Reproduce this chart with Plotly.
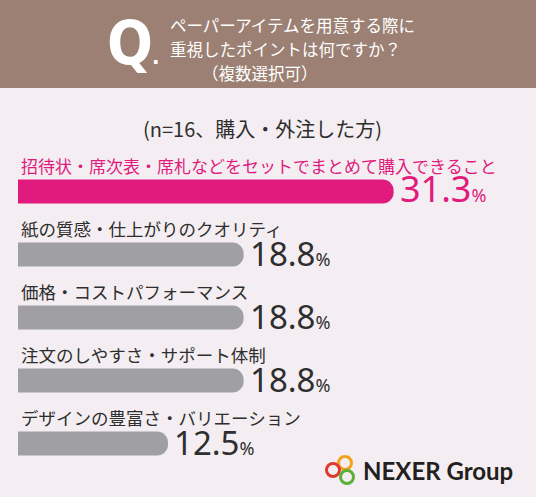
import plotly.graph_objects as go

W, H = 536, 497

# data
items = [
    "招待状・席次表・席札などをセットでまとめて購入できること",
    "紙の質感・仕上がりのクオリティ",
    "価格・コストパフォーマンス",
    "注文のしやすさ・サポート体制",
    "デザインの豊富さ・バリエーション",
]
shares = [31.3, 18.8, 18.8, 18.8, 12.5]
question = ["ペーパーアイテムを用意する際に", "重視したポイントは何ですか？", "（複数選択可）"]
note = "(n=16、購入・外注した方)"

PINK = "#e01b7d"
GREY = "#a0a0a2"
TEXT = "#2e2e2e"
BG = "#f4eef2"
BROWN = "#9b8073"
JP = "Noto Sans CJK JP"


def px(x):
    return x / W


def py(y):
    return 1 - y / H


bar_colors = [PINK] + [GREY] * (len(items) - 1)

fig = go.Figure()
fig.add_trace(go.Bar(
    x=shares,
    y=items,
    orientation="h",
    width=0.38,
    marker=dict(color=bar_colors, cornerradius=12, line=dict(width=0)),
    hoverinfo="skip",
))

# plot area placed with domains so that paper coords == figure fractions
fig.update_layout(
    width=W, height=H,
    margin=dict(l=0, r=0, t=0, b=0),
    paper_bgcolor=BG, plot_bgcolor="rgba(0,0,0,0)",
    showlegend=False,
    xaxis=dict(domain=[px(18), 1], range=[0, (W - 18) / 12.0],
               visible=False, fixedrange=True),
    yaxis=dict(domain=[py(475), py(160)], range=[len(items) - 0.5, -0.5],
               visible=False, fixedrange=True),
    font=dict(family=JP, color=TEXT),
)

# header band
fig.add_shape(type="rect", xref="paper", yref="paper",
              x0=0, x1=1, y0=py(88), y1=1, fillcolor=BROWN, line_width=0,
              layer="below")

QFONT = "DejaVu Sans Condensed, Roboto, sans-serif"
fig.add_annotation(x=px(130), y=py(43), xref="paper", yref="paper",
                   text="<b>Q</b>", showarrow=False, xanchor="center", yanchor="middle",
                   font=dict(family=QFONT, size=60, color="white"))
fig.add_annotation(x=px(156), y=py(57), xref="paper", yref="paper",
                   text="<b>.</b>", showarrow=False, xanchor="center", yanchor="middle",
                   font=dict(family=QFONT, size=22, color="white"))

for txt, (x, y) in zip(question, [(168, 25), (168, 49), (200, 73)]):
    fig.add_annotation(x=px(x), y=py(y), xref="paper", yref="paper", text=txt,
                       showarrow=False, xanchor="left", yanchor="middle",
                       font=dict(family=JP, size=16.5, color="white"))

fig.add_annotation(x=px(262), y=py(128), xref="paper", yref="paper", text=note,
                   showarrow=False, xanchor="center", yanchor="middle",
                   font=dict(family=JP, size=20, color=TEXT))

# category labels above bars and values at bar ends
for i, (name, v) in enumerate(zip(items, shares)):
    col = PINK if i == 0 else TEXT
    fig.add_annotation(x=0, y=name, text=name, showarrow=False,
                       xanchor="left", yanchor="middle", yshift=26, xshift=1,
                       font=dict(family=JP, size=17 if i == 0 else 17.5, color=col))
    fig.add_annotation(x=v, y=name,
                       text=f"{v:.1f}<span style='font-size:18px'>%</span>",
                       showarrow=False, xanchor="left", yanchor="middle",
                       xshift=4, yshift=3 if i == 0 else 1,
                       font=dict(family="Noto Sans", size=36 if i == 0 else 33, color=col))

# logo
for cx, cy, c in [(345, 463, "#f2a31b"), (333, 470, "#e03a2f"), (347, 477, "#5bb033")]:
    r = 6.5
    fig.add_shape(type="circle", xref="paper", yref="paper",
                  x0=px(cx - r), x1=px(cx + r), y0=py(cy + r), y1=py(cy - r),
                  line=dict(color=c, width=3), fillcolor="rgba(0,0,0,0)")
fig.add_annotation(x=px(361), y=py(470), xref="paper", yref="paper",
                   text="<b>NEXER Group</b>", showarrow=False,
                   xanchor="left", yanchor="middle",
                   font=dict(family="Lato", size=24, color="#231f20"))

fig.write_html("out.html", config={"displayModeBar": False},
               post_script="document.body.style.margin='0';document.body.style.overflow='hidden';")
